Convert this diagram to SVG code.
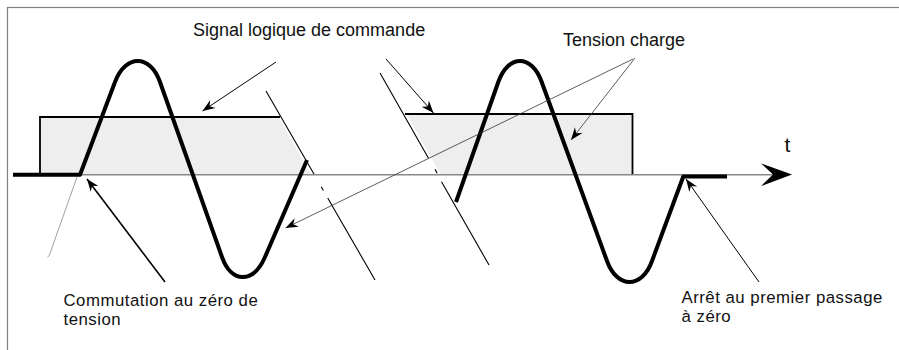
<svg xmlns="http://www.w3.org/2000/svg" width="899" height="350" viewBox="0 0 899 350">
  <style>
    .fill { fill: #eeeeee; stroke: none; }
    .edge { fill: none; stroke: #000; stroke-width: 1.8; }
    .wave { fill: none; stroke: #000; stroke-width: 4; stroke-linecap: butt; stroke-linejoin: round; }
    .diag { fill: none; stroke: #000; stroke-width: 1.1; }
    .axis { fill: none; stroke: #888; stroke-width: 1.4; }
    .arr { fill: none; stroke: #000; stroke-width: 1; marker-end: url(#ah); }
    .arrThin { fill: none; stroke: #333; stroke-width: 0.8; marker-end: url(#ah); }
    .arrBold { fill: none; stroke: #000; stroke-width: 1.6; marker-end: url(#ah); }
    .lbl { font-family: "Liberation Sans", Arial, sans-serif; font-size: 18px; fill: #111; }
    .lbl2 { font-family: "Liberation Sans", Arial, sans-serif; font-size: 16.8px; letter-spacing: 0.5px; fill: #111; }
  </style>
  <defs>
    <marker id="ah" markerUnits="userSpaceOnUse" markerWidth="16" markerHeight="12" viewBox="-13 -6 14 12" refX="0" refY="0" orient="auto">
      <path d="M0,0 L-12.5,-4.8 L-8.5,0 L-12.5,4.8 Z" fill="#000"/>
    </marker>
  </defs>

  <rect id="frame" x="7.5" y="7.5" width="900" height="400" fill="#fff" stroke="#808080" stroke-width="1.2"/>

  <g id="signal-1">
    <polygon class="fill" points="41,117 278.5,117 311.5,175 41,175"/>
    <path class="edge" d="M40,175 L40,117 L280,117"/>
  </g>
  <g id="signal-2">
    <polygon class="fill" points="406.5,114 632,114 632,175 441,175"/>
    <path class="edge" d="M405,114 L632.5,114 L632.5,175"/>
  </g>

  <g id="guides">
    <path class="diag" d="M266,91 L314.5,175 M321.2,186.7 L323.4,190.6 M327.7,198 L375,280"/>
    <path class="diag" d="M380,73 L428.5,158.3 M435,169.3 L437.2,173.3 M441.5,181.8 L489,265"/>
    <path fill="none" stroke="#777" stroke-width="0.7" d="M77,177 L50.5,252 Q49.6,256 47.5,257.3"/>
  </g>

  <g id="axis">
    <line class="axis" x1="13" y1="174.8" x2="775" y2="174.8"/>
    <path d="M792,174.6 L761,163.3 L773,174.6 L761,186 Z" fill="#000"/>
    <text x="784.5" y="152" style="font-family:'Liberation Sans', Arial, sans-serif; font-size:21px; fill:#111">t</text>
  </g>

  <g id="load-voltage">
    <path class="wave" d="M13,174.7 L80,174.7 L115,82 C125.5,54 150.2,54 160,82 L222,257 C231.4,283.7 253.4,283.7 265,257 L307,160"/>
    <path class="wave" d="M456,202 L498.3,82 C508.2,54 531.8,54 541.7,82 L607,261 C617.2,289 641.9,289 652,261 L683.3,176.5 L727,176.5"/>
  </g>

  <g id="connectors">
    <line class="arr" x1="276" y1="62" x2="202.5" y2="111"/>
    <line class="arr" x1="386" y1="59" x2="433.5" y2="113"/>
    <line class="arrThin" x1="635" y1="58" x2="571" y2="140"/>
    <line class="arrThin" x1="633" y1="59" x2="285.5" y2="228"/>
    <line class="arrBold" x1="165" y1="282" x2="87" y2="179"/>
    <line class="arr" x1="759" y1="282" x2="686" y2="179"/>
  </g>

  <g id="label-signal"><text class="lbl" x="193" y="36">Signal logique de commande</text></g>
  <g id="label-tension"><text class="lbl" x="563" y="46">Tension charge</text></g>
  <g id="label-commutation">
    <text class="lbl2" x="63.5" y="306">Commutation au zéro de</text>
    <text class="lbl2" x="63.5" y="325">tension</text>
  </g>
  <g id="label-arret">
    <text class="lbl2" x="681.5" y="302.5">Arrêt au premier passage</text>
    <text class="lbl2" x="681.5" y="321.5">à zéro</text>
  </g>
</svg>
